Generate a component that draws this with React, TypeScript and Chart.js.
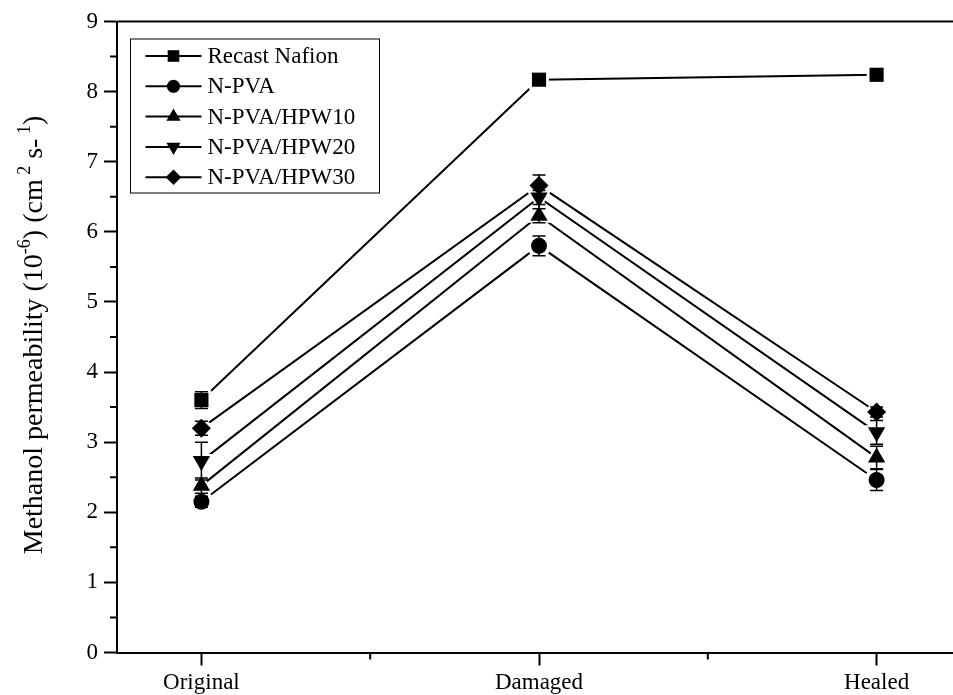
import React, { useEffect, useRef } from 'react';
import { Chart, registerables } from 'chart.js';
import { drawPoint } from 'chart.js/helpers';

Chart.register(...registerables);

// ---- data ----
const categories = ['Original', 'Damaged', 'Healed'];
const seriesNames = ['Recast Nafion', 'N-PVA', 'N-PVA/HPW10', 'N-PVA/HPW20', 'N-PVA/HPW30'];
const recastNafion = [3.6, 8.17, 8.24];
const nPVA = [2.15, 5.8, 2.46];
const nPVAHPW10 = [2.38, 6.23, 2.78];
const nPVAHPW20 = [2.73, 6.49, 3.14];
const nPVAHPW30 = [3.2, 6.66, 3.43];
const errRecastNafion = [0.12, 0.05, 0.05];
const errNPVA = [0.08, 0.14, 0.15];
const errNPVAHPW10 = [0.11, 0.1, 0.16];
const errNPVAHPW20 = [0.27, 0.1, 0.17];
const errNPVAHPW30 = [0.1, 0.15, 0.07];
const yTickValues = [0, 1, 2, 3, 4, 5, 6, 7, 8, 9];
// y title pieces: [text, isSuperscript]
const yTitleParts: [string, boolean][] = [
  ['Methanol permeability (10', false],
  ['-6', true],
  [') (cm', false],
  [' 2', true],
  [' s-', false],
  [' 1', true],
  [')', false],
];

const seriesValues = [recastNafion, nPVA, nPVAHPW10, nPVAHPW20, nPVAHPW30];
const seriesErrors = [errRecastNafion, errNPVA, errNPVAHPW10, errNPVAHPW20, errNPVAHPW30];

// marker styles
const markerStyles = ['rect', 'circle', 'triangle', 'triangle', 'rectRot'];
const markerRotations = [0, 0, 0, 180, 0];
const markerRadii = [10, 8, 10, 10, 9.5];

const FONT = "'Liberation Serif', 'Times New Roman', serif";

const overlayPlugin = {
  id: 'overlay',
  afterDatasetsDraw(chart: any) {
    const ctx = chart.ctx;
    const xs = chart.scales.x;
    const ys = chart.scales.y;
    ctx.save();
    // error bars
    ctx.strokeStyle = '#000';
    ctx.lineWidth = 1.5;
    seriesValues.forEach((vals, si) => {
      vals.forEach((v, i) => {
        const e = seriesErrors[si][i];
        const px = xs.getPixelForValue(i + 1);
        const yt = ys.getPixelForValue(v + e);
        const yb = ys.getPixelForValue(v - e);
        ctx.beginPath();
        ctx.moveTo(px, yt);
        ctx.lineTo(px, yb);
        ctx.moveTo(px - 6.5, yt);
        ctx.lineTo(px + 6.5, yt);
        ctx.moveTo(px - 6.5, yb);
        ctx.lineTo(px + 6.5, yb);
        ctx.stroke();
      });
    });
    // black markers
    ctx.fillStyle = '#000';
    chart.data.datasets.forEach((ds: any, di: number) => {
      const meta = chart.getDatasetMeta(di);
      meta.data.forEach((pt: any) => {
        drawPoint(ctx, {
          pointStyle: markerStyles[di],
          rotation: markerRotations[di],
          radius: markerRadii[di],
          borderWidth: 0,
        } as any, pt.x, pt.y);
      });
    });
    ctx.restore();
  },
  afterDraw(chart: any) {
    const ctx = chart.ctx;
    const a = chart.chartArea;
    const xs = chart.scales.x;
    const ys = chart.scales.y;
    ctx.save();
    ctx.strokeStyle = '#000';
    // frame top & right
    ctx.lineWidth = 2;
    ctx.beginPath();
    ctx.moveTo(a.left, a.top);
    ctx.lineTo(a.right, a.top);
    ctx.lineTo(a.right, a.bottom);
    ctx.stroke();
    // minor ticks
    ctx.lineWidth = 2;
    ctx.beginPath();
    for (let i = 0; i < yTickValues.length - 1; i++) {
      const v = (yTickValues[i] + yTickValues[i + 1]) / 2;
      const py = ys.getPixelForValue(v);
      ctx.moveTo(a.left, py);
      ctx.lineTo(a.left - 7, py);
    }
    for (let i = 0; i < categories.length - 1; i++) {
      const px = xs.getPixelForValue(i + 1.5);
      ctx.moveTo(px, a.bottom);
      ctx.lineTo(px, a.bottom + 7);
    }
    ctx.stroke();

    // y axis title with superscripts
    const mainFont = `28px ${FONT}`;
    const supFont = `18px ${FONT}`;
    let total = 0;
    yTitleParts.forEach(([t, sup]) => {
      ctx.font = sup ? supFont : mainFont;
      total += ctx.measureText(t).width;
    });
    ctx.save();
    ctx.translate(42, (a.top + a.bottom) / 2 - 2);
    ctx.rotate(-Math.PI / 2);
    ctx.fillStyle = '#000';
    ctx.textBaseline = 'alphabetic';
    ctx.textAlign = 'left';
    let cx = -total / 2;
    yTitleParts.forEach(([t, sup]) => {
      ctx.font = sup ? supFont : mainFont;
      ctx.fillText(t, cx, sup ? -12 : 0);
      cx += ctx.measureText(t).width;
    });
    ctx.restore();

    // legend
    const bx = a.left + 13.5;
    const by = a.top + 17.5;
    const bw = 249;
    const bh = 154;
    ctx.lineWidth = 1;
    ctx.strokeRect(bx, by, bw, bh);
    ctx.font = `23px ${FONT}`;
    ctx.textBaseline = 'middle';
    ctx.textAlign = 'left';
    ctx.fillStyle = '#000';
    seriesNames.forEach((name, i) => {
      const cy = by + 17 + i * 30.3;
      ctx.lineWidth = 2;
      ctx.beginPath();
      ctx.moveTo(bx + 15, cy);
      ctx.lineTo(bx + 71, cy);
      ctx.stroke();
      drawPoint(ctx, {
        pointStyle: markerStyles[i],
        rotation: markerRotations[i],
        radius: markerRadii[i] * 0.82,
        borderWidth: 0,
      } as any, bx + 43, cy);
      ctx.fillText(name, bx + 77, cy + 1);
    });
    ctx.restore();
  },
};

export default function App() {
  const ref = useRef<HTMLCanvasElement | null>(null);
  useEffect(() => {
    if (!ref.current) return;
    const datasets = seriesNames.map((name, si) => ({
      label: name,
      data: seriesValues[si].map((v, i) => ({ x: i + 1, y: v })),
      borderColor: '#000',
      borderWidth: 2,
      pointStyle: markerStyles[si] as any,
      pointRotation: markerRotations[si],
      pointRadius: markerRadii[si] + 4,
      pointBackgroundColor: '#fff',
      pointBorderWidth: 0,
      pointHoverRadius: markerRadii[si] + 4,
      tension: 0,
      fill: false,
    }));
    const chart = new Chart(ref.current, {
      type: 'line',
      data: { datasets },
      options: {
        responsive: false,
        animation: false,
        layout: { padding: { top: 21.5, right: 12, left: 0, bottom: 0 } },
        plugins: { legend: { display: false }, tooltip: { enabled: false } },
        scales: {
          x: {
            type: 'linear',
            min: 0.75,
            max: 3.25,
            afterBuildTicks: (scale: any) => {
              scale.ticks = categories.map((_, i) => ({ value: i + 1 }));
            },
            afterFit: (scale: any) => {
              scale.height = 42.5;
            },
            ticks: {
              color: '#000',
              font: { family: FONT, size: 23 },
              padding: 4,
              maxRotation: 0,
              autoSkip: false,
              callback: (v: any) => categories[Math.round(Number(v)) - 1] ?? '',
            },
            grid: {
              drawOnChartArea: false,
              drawTicks: true,
              tickLength: 13,
              tickColor: '#000',
              tickWidth: 2,
            },
            border: { display: true, color: '#000', width: 2 },
          },
          y: {
            type: 'linear',
            min: 0,
            max: 9,
            afterBuildTicks: (scale: any) => {
              scale.ticks = yTickValues.map((v) => ({ value: v }));
            },
            afterFit: (scale: any) => {
              scale.width = 117;
            },
            ticks: {
              color: '#000',
              font: { family: FONT, size: 23 },
              padding: 6,
              callback: (v: any) => String(v),
            },
            grid: {
              drawOnChartArea: false,
              drawTicks: true,
              tickLength: 13,
              tickColor: '#000',
              tickWidth: 2,
            },
            border: { display: true, color: '#000', width: 2 },
            title: { display: false },
          },
        },
      },
      plugins: [overlayPlugin],
    });
    return () => chart.destroy();
  }, []);
  return (
    <div style={{ position: 'absolute', left: 0, top: 0, width: 953, height: 695, overflow: 'hidden', background: '#fff' }}>
      <canvas ref={ref} width={975} height={695} style={{ display: 'block' }} />
    </div>
  );
}
